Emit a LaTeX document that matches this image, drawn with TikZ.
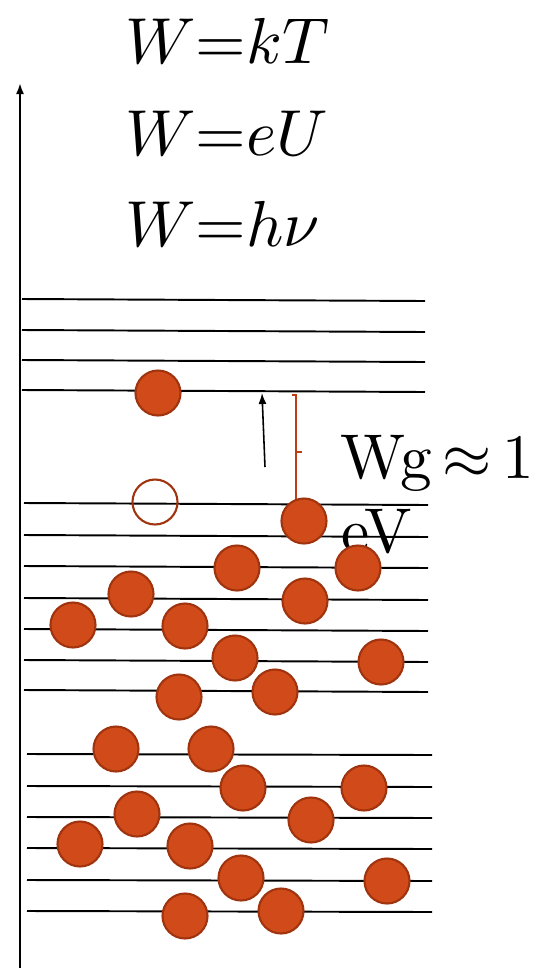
\documentclass[tikz,border=0pt]{standalone}
\usepackage{graphicx}
\usetikzlibrary{arrows.meta, positioning}
\definecolor{dotfill}{RGB}{209,74,25}
\definecolor{dotedge}{RGB}{160,52,15}
\definecolor{gapred}{RGB}{190,60,20}
\newcommand{\bigtext}[1]{\scalebox{3.7}{#1}}

\begin{document}
\begin{tikzpicture}[
  x=0.02cm, y=-0.02cm,
  level/.style={line width=1.1pt},
  electron/.style={circle, fill=dotfill, draw=dotedge, line width=1.2pt, minimum size=0.9cm, inner sep=0pt},
  hole/.style={circle, draw=dotedge, line width=1.2pt, minimum size=0.9cm, inner sep=0pt},
  formula/.style={anchor=base west, inner sep=0pt},
  label/.style={anchor=base west, inner sep=0pt},
  arr/.style={-{Latex[length=2.2mm,width=1.6mm]}, line width=0.9pt}
]
\useasboundingbox (0,0) rectangle (552,968);

% Energy axis
\coordinate (ax0) at (20,968);
\coordinate (ax1) at (20,83);
\draw[arr, line width=1.1pt] (ax0) -- (ax1);

% Formulas
\node[formula] (kt) at (125,63)  {\bigtext{$W{=}kT$}};
\node[formula] (eu) at (125,155) {\bigtext{$W{=}eU$}};
\node[formula] (hv) at (125,246) {\bigtext{$W{=}h\nu$}};

% Levels: conduction band
\foreach \y in {299,330,360,390}
  \draw[level] (22,\y) -- (425,\y+2);
% Levels: valence band
\foreach \y in {503,535,566,598,629,660,690}
  \draw[level] (24,\y) -- (428,\y+2);
\foreach \y in {754,786,817,848,880,911}
  \draw[level] (27,\y) -- (432,\y+1);

% Excited electron and hole
\node[electron] (up)   at (158,393) {};
\node[hole]     (hole) at (155,502) {};

% Gap arrow and bracket
\coordinate (kick0) at (265,467);
\coordinate (kick1) at (262,393);
\draw[arr] (kick0) -- (kick1);
\draw[gapred, line width=0.9pt] (292,395) -- (296,395) -- (296,508) -- (292,508)
  (296,452) -- (302,452);
\node[label] (wg) at (340,478) {\scalebox{3.6}{Wg\,${\approx}$\,1}};
\node[label] (ev) at (341,552) {\scalebox{3.6}{eV}};

% Valence electrons
\foreach \x/\y [count=\i] in {304/521, 237/568, 358/568, 131/594, 305/601, 73/625,
    185/626, 235/658, 381/662, 179/697, 275/692, 116/749, 211/749, 243/788,
    364/788, 137/814, 311/820, 80/844, 190/846, 241/878, 387/881, 185/916, 281/911}
  \node[electron] (v\i) at (\x,\y) {};

\end{tikzpicture}
\end{document}
